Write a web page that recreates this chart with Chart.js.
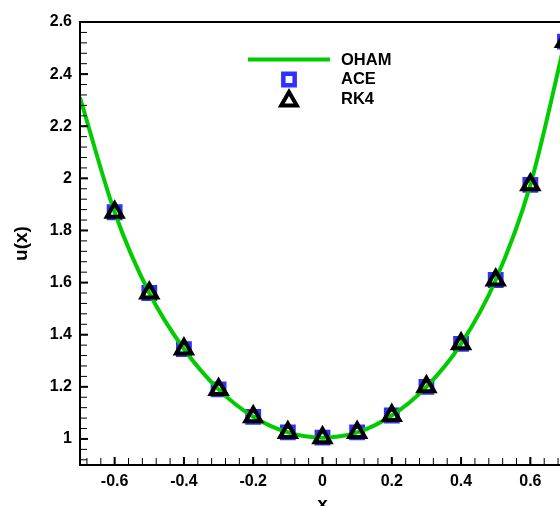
<!DOCTYPE html>
<html>
<head>
<meta charset="utf-8">
<script src="https://cdn.jsdelivr.net/npm/chart.js@4"></script>
<style>
  html,body{margin:0;padding:0;background:#fff;overflow:hidden;}
  #wrap{width:578px;height:506px;}
</style>
</head>
<body>
<div id="wrap"><canvas id="c" width="578" height="506"></canvas></div>
<script>
// x positions of the solution samples
const xVals   = [-0.6,-0.5,-0.4,-0.3,-0.2,-0.1,0,0.1,0.2,0.3,0.4,0.5,0.6,0.7];
const aceVals = [1.87,1.56,1.345,1.19,1.085,1.025,1.005,1.025,1.09,1.2,1.365,1.61,1.975,2.525];
const rk4Vals = [1.87,1.56,1.345,1.19,1.085,1.025,1.005,1.025,1.09,1.2,1.365,1.61,1.975,2.525];
// OHAM curve (starts at the left edge)
const ohamX   = [-0.7,-0.6,-0.5,-0.4,-0.3,-0.2,-0.1,0,0.1,0.2,0.3,0.4,0.5,0.6,0.7];
const ohamVals= [2.31,1.87,1.56,1.345,1.19,1.085,1.025,1.005,1.025,1.09,1.2,1.365,1.61,1.975,2.525];
// tick labels
const xTicks = [-0.6,-0.4,-0.2,0,0.2,0.4,0.6];
const yTicks = [1,1.2,1.4,1.6,1.8,2,2.2,2.4,2.6];

const GREEN='#00cc00', BLUE='#3030ff';
const FONT='"Liberation Sans", Arial, sans-serif';

const pts=(xs,ys)=>xs.map((x,i)=>({x:x,y:ys[i]}));

// box + inward ticks (major and minor)
const frame={
  id:'frame',
  afterDatasetsDraw(ch){
    const a=ch.chartArea, c=ch.ctx, sx=ch.scales.x, sy=ch.scales.y;
    c.save();
    c.strokeStyle='#000';
    const minor=(sc,step,fn)=>{
      const n0=Math.ceil(sc.min/step-1e-6), n1=Math.floor(sc.max/step+1e-6);
      for(let n=n0;n<=n1;n++) fn(sc.getPixelForValue(n*step));
    };
    c.lineWidth=1;
    minor(sx,0.04,px=>{c.beginPath();c.moveTo(px,a.bottom);c.lineTo(px,a.bottom-7);c.stroke();});
    minor(sy,0.04,py=>{c.beginPath();c.moveTo(a.left,py);c.lineTo(a.left+7,py);c.stroke();});
    c.lineWidth=2;
    sx.ticks.forEach(t=>{const px=sx.getPixelForValue(t.value);c.beginPath();c.moveTo(px,a.bottom);c.lineTo(px,a.bottom-8);c.stroke();});
    sy.ticks.forEach(t=>{const py=sy.getPixelForValue(t.value);c.beginPath();c.moveTo(a.left,py);c.lineTo(a.left+8,py);c.stroke();});
    c.strokeRect(a.left,a.top,a.right-a.left,a.bottom-a.top);
    c.restore();
  }
};

// legend drawn in the plot box
const legendBox={
  id:'legendBox',
  afterDraw(ch){
    const c=ch.ctx;
    c.save();
    c.strokeStyle=GREEN; c.lineWidth=4;
    c.beginPath(); c.moveTo(248,59.5); c.lineTo(330,59.5); c.stroke();
    c.lineWidth=4.5; c.strokeStyle=BLUE; c.fillStyle='#fff';
    Chart.helpers.drawPoint(c,{pointStyle:'rect',radius:8,borderWidth:4.5},289,79.5);
    c.lineWidth=4; c.strokeStyle='#000'; c.fillStyle='rgba(0,0,0,0)';
    Chart.helpers.drawPoint(c,{pointStyle:'triangle',radius:9,borderWidth:4},289,101);
    c.fillStyle='#000'; c.font='bold 16.5px '+FONT; c.textBaseline='middle';
    c.fillText('OHAM',341,60); c.fillText('ACE',341,79.5); c.fillText('RK4',341,99.5);
    c.restore();
  }
};

const fmt=v=>String(Math.round(v*10)/10);

new Chart(document.getElementById('c'),{
  type:'scatter',
  data:{datasets:[
    {label:'RK4',data:pts(xVals,rk4Vals),order:0,pointStyle:'triangle',pointRadius:9,
     pointBorderWidth:4,pointBorderColor:'#000',pointBackgroundColor:'rgba(0,0,0,0)',clip:false},
    {label:'OHAM',type:'line',data:pts(ohamX,ohamVals),order:1,borderColor:GREEN,borderWidth:4,
     pointRadius:0,cubicInterpolationMode:'monotone',fill:false},
    {label:'ACE',data:pts(xVals,aceVals),order:2,pointStyle:'rect',pointRadius:8,
     pointBorderWidth:4.5,pointBorderColor:BLUE,pointBackgroundColor:'rgba(0,0,0,0)',clip:false}
  ]},
  options:{
    responsive:false,animation:false,
    layout:{padding:{top:22,right:6.5,left:0,bottom:0}},
    plugins:{legend:{display:false},tooltip:{enabled:false}},
    scales:{
      x:{type:'linear',min:-0.7,max:0.7,
        afterBuildTicks:s=>{s.ticks=xTicks.map(v=>({value:v}));},
        afterFit:s=>{s.height=41;},
        grid:{display:false,drawTicks:false},border:{display:false},
        ticks:{padding:7,color:'#000',font:{family:FONT,size:16,weight:'bold'},callback:fmt},
        title:{display:true,text:'x',color:'#000',font:{family:FONT,size:19,weight:'bold'},padding:{top:0,bottom:-10}}},
      y:{type:'linear',min:0.9,max:2.6,
        afterBuildTicks:s=>{s.ticks=yTicks.map(v=>({value:v}));},
        afterFit:s=>{s.width=80;},
        grid:{display:false,drawTicks:false},border:{display:false},
        ticks:{padding:8,color:'#000',font:{family:FONT,size:16,weight:'bold'},callback:fmt},
        title:{display:true,text:'u(x)',color:'#000',font:{family:FONT,size:19,weight:'bold'},padding:{top:10,bottom:0}}}
    }
  },
  plugins:[frame,legendBox]
});
</script>
</body>
</html>
